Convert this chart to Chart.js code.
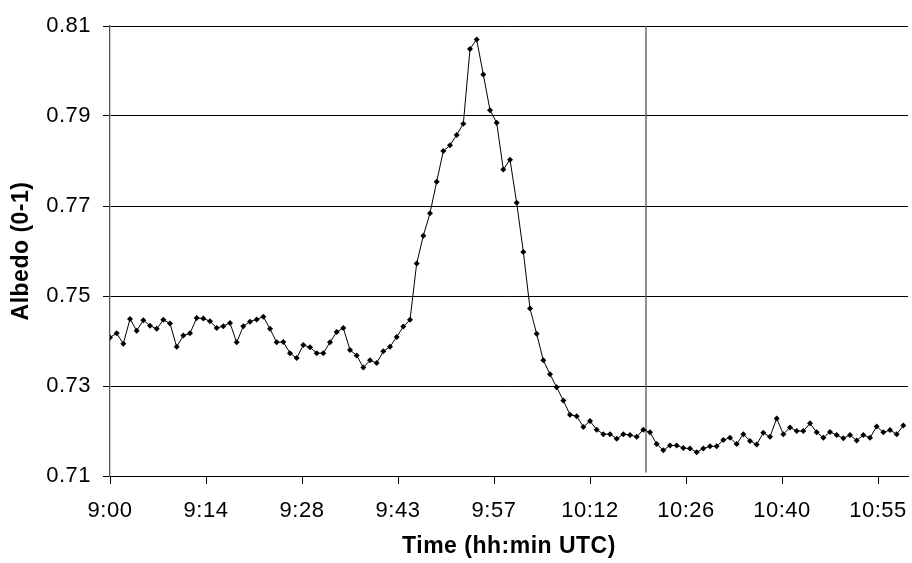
<!DOCTYPE html>
<html>
<head>
<meta charset="utf-8">
<title>Albedo</title>
<script src="https://cdn.jsdelivr.net/npm/chart.js@4/dist/chart.umd.min.js"></script>
<style>
	html, body { margin: 0; padding: 0; background: #fff; }
	#chartBox { width: 912px; height: 563px; position: relative; }
</style>
</head>
<body>
<div id="chartBox"><canvas id="albedoChart"></canvas></div>
<script>
// 09:00 UTC 부터 1분 간격 측정값
const albedo = [
	0.7408, 0.7417, 0.7394, 0.7449, 0.7423, 0.7446, 0.7434, 0.7427, 0.7447, 0.7439,
	0.7387, 0.7412, 0.7417, 0.7451, 0.7450, 0.7444, 0.7429, 0.7433, 0.7440, 0.7397,
	0.7433, 0.7443, 0.7448, 0.7454, 0.7427, 0.7397, 0.7398, 0.7373, 0.7362, 0.7391,
	0.7386, 0.7373, 0.7373, 0.7397, 0.7420, 0.7429, 0.7380, 0.7368, 0.7341, 0.7357,
	0.7351, 0.7377, 0.7387, 0.7409, 0.7432, 0.7447, 0.7572, 0.7634, 0.7684, 0.7754,
	0.7822, 0.7835, 0.7858, 0.7883, 0.8049, 0.8070, 0.7992, 0.7913, 0.7885, 0.7781,
	0.7803, 0.7707, 0.7598, 0.7472, 0.7416, 0.7357, 0.7326, 0.7297, 0.7268, 0.7236,
	0.7233, 0.7209, 0.7222, 0.7203, 0.7193, 0.7193, 0.7183, 0.7193, 0.7191, 0.7187,
	0.7203, 0.7197, 0.7171, 0.7157, 0.7168, 0.7168, 0.7162, 0.7161, 0.7153, 0.7161,
	0.7166, 0.7166, 0.7180, 0.7185, 0.7171, 0.7193, 0.7178, 0.7170, 0.7196, 0.7187,
	0.7228, 0.7193, 0.7208, 0.7200, 0.7200, 0.7217, 0.7197, 0.7185, 0.7198, 0.7191,
	0.7184, 0.7191, 0.7179, 0.7191, 0.7185, 0.7210, 0.7197, 0.7202, 0.7193, 0.7212
];

// x축 눈금 (09:00 기준 분, 0.01일 = 14.4분 간격)
const tickMinutes = [0, 14.4, 28.8, 43.2, 57.6, 72, 86.4, 100.8, 115.2];
const tickLabels = ['9:00', '9:14', '9:28', '9:43', '9:57', '10:12', '10:26', '10:40', '10:55'];

// y축 눈금
const yTicks = [0.71, 0.73, 0.75, 0.77, 0.79, 0.81];

// 세로 기준선 위치 (분)
const markerMinute = 80.4;

const points = albedo.map((v, i) => ({x: i, y: v}));

const fontName = '"Liberation Sans", Arial, sans-serif';

let ctx = document.getElementById('albedoChart').getContext('2d');
let albedoChart = new Chart(ctx, {
	type: 'line',
	data: {
		datasets: [{
			data: points,
			borderColor: '#000',
			borderWidth: 1,
			backgroundColor: '#000',
			pointStyle: 'rectRot',
			pointRadius: 3,
			pointBorderWidth: 0,
			tension: 0,
			order: 1
		}, {
			data: [{x: markerMinute, y: 0.7108}, {x: markerMinute, y: yTicks[yTicks.length - 1]}],
			borderColor: '#555',
			borderWidth: 1.3,
			pointRadius: 0,
			order: 2
		}]
	},
	options: {
		responsive: true,
		maintainAspectRatio: false,
		animation: false,
		layout: {
			padding: {top: 26, right: 0, bottom: 0, left: 0}
		},
		plugins: {
			legend: {display: false},
			tooltip: {enabled: false}
		},
		scales: {
			x: {
				type: 'linear',
				min: 0,
				max: 119.7,
				afterBuildTicks(scale) {
					scale.ticks = tickMinutes.map(v => ({value: v}));
				},
				afterFit(scale) {
					scale.height = 87;
					// 마지막 라벨 때문에 오른쪽 여백이 생기지 않도록
					scale.paddingLeft = 0;
					scale.paddingRight = 0;
				},
				grid: {
					drawOnChartArea: false,
					drawTicks: true,
					tickLength: 8,
					color: '#000'
				},
				border: {color: '#000', width: 1},
				ticks: {
					autoSkip: false,
					maxRotation: 0,
					padding: 14,
					color: '#000',
					font: {family: fontName, size: 22},
					callback(value, index) {
						return tickLabels[index];
					}
				},
				title: {
					display: true,
					text: 'Time (hh:min UTC)',
					color: '#000',
					padding: {top: 0, bottom: 3},
					font: {family: fontName, size: 23, weight: 'bold'}
				}
			},
			y: {
				min: yTicks[0],
				max: yTicks[yTicks.length - 1],
				afterBuildTicks(scale) {
					scale.ticks = yTicks.map(v => ({value: v}));
				},
				afterFit(scale) {
					scale.width = 110;
				},
				grid: {
					color: '#000',
					lineWidth: 1,
					tickLength: 7
				},
				border: {color: '#555', width: 1.3},
				ticks: {
					padding: 12,
					color: '#000',
					font: {family: fontName, size: 22},
					callback(value) {
						return value.toFixed(2);
					}
				},
				title: {
					display: true,
					text: 'Albedo (0-1)',
					color: '#000',
					padding: {top: 8, bottom: 0},
					font: {family: fontName, size: 23, weight: 'bold'}
				}
			}
		}
	},
	plugins: [
		{
			// 글자 간격을 조금 넓힘
			id: 'letterSpacing',
			beforeLayout(chart) {
				chart.ctx.letterSpacing = '0.5px';
			},
			beforeDraw(chart) {
				chart.ctx.letterSpacing = '0.5px';
			}
		}
	]
});
</script>
</body>
</html>
